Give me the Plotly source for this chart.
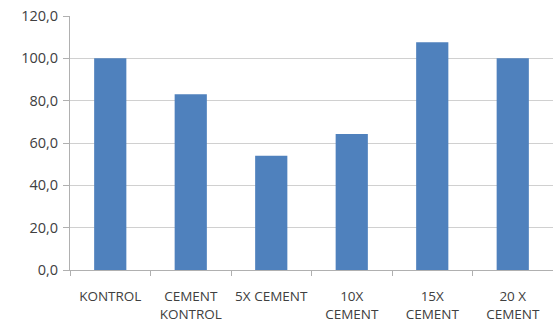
import plotly.graph_objects as go

categories = ["KONTROL", "CEMENT<br>KONTROL", "5X CEMENT", "10X<br>CEMENT", "15X<br>CEMENT", "20 X<br>CEMENT"]
values = [100.0, 83.0, 54.0, 64.2, 107.6, 100.0]
y_ticks = [0, 20, 40, 60, 80, 100, 120]

fig = go.Figure(go.Bar(
    x=categories, y=values,
    marker=dict(color="#4f81bd", line=dict(width=0)),
    width=0.4,
))

fig.update_layout(
    width=553, height=325,
    margin=dict(l=70, r=0, t=16, b=55),
    plot_bgcolor="white", paper_bgcolor="white",
    separators=",.",
    showlegend=False,
    font=dict(family="Open Sans, sans-serif", size=13, color="#404040"),
)
fig.update_yaxes(
    range=[0, 120], tickvals=y_ticks, tickformat=".1f",
    showgrid=True, gridcolor="#d0d0d0", gridwidth=1,
    showline=True, linecolor="#b0b0b0", linewidth=1,
    ticks="outside", ticklen=6, tickcolor="#b0b0b0",
    zeroline=False, tickfont=dict(size=14.5), automargin=False,
    ticklabelstandoff=2,
)
fig.update_xaxes(
    showline=True, linecolor="#b0b0b0", linewidth=1,
    ticks="outside", ticklen=5, tickcolor="#b0b0b0",
    tickson="boundaries", tickfont=dict(size=13.5),
    tickangle=0, ticklabelstandoff=14, automargin=False,
)

fig.write_html("out.html")
